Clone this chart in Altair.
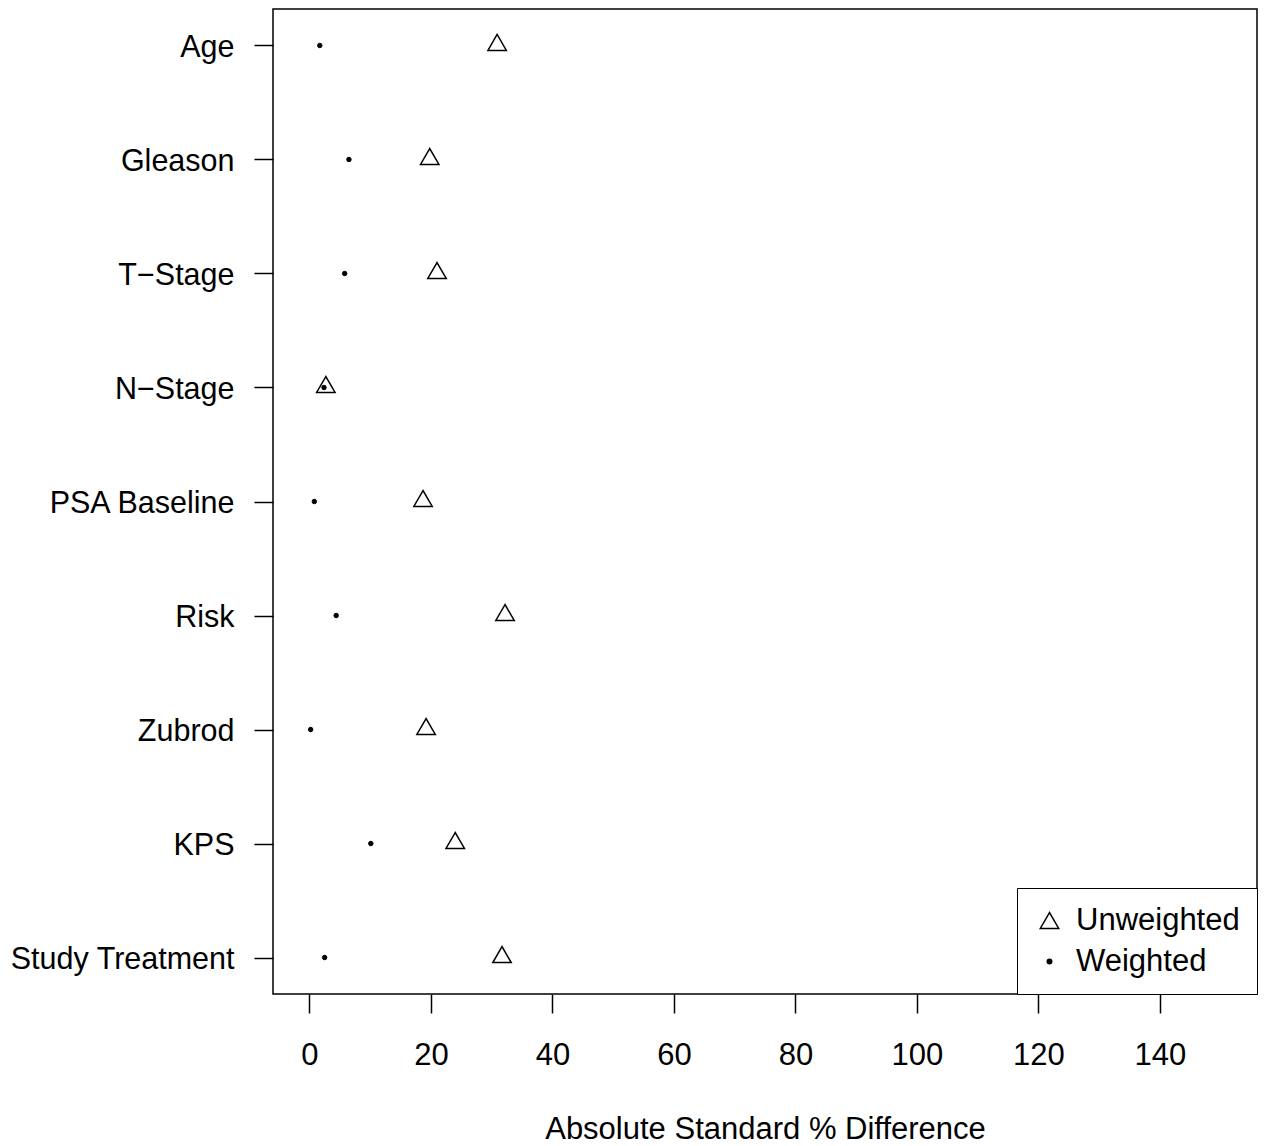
import altair as alt
import pandas as pd

categories = ["Age", "Gleason", "T−Stage", "N−Stage", "PSA Baseline",
              "Risk", "Zubrod", "KPS", "Study Treatment"]
unweighted = [30.9, 19.8, 21.0, 2.7, 18.7, 32.2, 19.2, 24.0, 31.7]
weighted = [1.7, 6.5, 5.8, 2.4, 0.8, 4.4, 0.2, 10.1, 2.5]
series = ["Unweighted", "Weighted"]
x_ticks = [0, 20, 40, 60, 80, 100, 120, 140]
x_domain = [-6, 156]

rows = []
for c, v in zip(categories, unweighted):
    rows.append({"variable": c, "value": v, "series": "Unweighted"})
for c, v in zip(categories, weighted):
    rows.append({"variable": c, "value": v, "series": "Weighted"})
df = pd.DataFrame(rows)

FONT = "Liberation Sans"

base = alt.Chart(df).encode(
    x=alt.X("value:Q",
            scale=alt.Scale(domain=x_domain, nice=False, zero=False),
            axis=alt.Axis(values=x_ticks, tickSize=19, tickWidth=1.5, tickColor="black",
                          domain=False, grid=False, labelFontSize=31, labelFont=FONT,
                          labelColor="black", labelBaseline="alphabetic", labelPadding=51,
                          labelFlush=False, titleFontSize=31, titleFont=FONT,
                          titleFontWeight="normal", titleColor="black",
                          titleBaseline="alphabetic", titleY=144),
            title="Absolute Standard % Difference"),
    y=alt.Y("variable:N", sort=categories,
            scale=alt.Scale(padding=0.32),
            axis=alt.Axis(tickSize=19, tickWidth=1.5, tickColor="black", domain=False,
                          grid=False, labelFontSize=30.5, labelFont=FONT, labelColor="black",
                          labelPadding=20, labelBaseline="alphabetic", labelOffset=11,
                          labelLimit=400),
            title=None),
    shape=alt.Shape("series:N", scale=alt.Scale(domain=series, range=["triangle-up", "circle"]),
                    title=None),
    fill=alt.Fill("series:N", scale=alt.Scale(domain=series, range=["transparent", "black"]),
                  title=None),
    stroke=alt.Stroke("series:N", scale=alt.Scale(domain=series, range=["black", "black"]),
                      title=None),
    size=alt.Size("series:N", scale=alt.Scale(domain=series, range=[340, 20]), title=None),
)

tri = base.transform_filter(alt.datum.series == "Unweighted").mark_point(
    filled=True, strokeWidth=1.5, yOffset=-3, opacity=1)
dot = base.transform_filter(alt.datum.series == "Weighted").mark_point(
    filled=True, strokeWidth=1, opacity=1)

chart = alt.layer(tri, dot).properties(
    width=984, height=985,
    autosize=alt.AutoSizeParams(type="none"),
    padding={"left": 265, "top": 1, "right": 1, "bottom": 150},
).configure_view(
    stroke="black", strokeWidth=1.5
).configure_legend(
    orient="bottom-right", offset=0, padding=17, rowPadding=9, labelOffset=11,
    labelFontSize=31, labelFont=FONT, labelColor="black", strokeColor="black",
    fillColor="white", symbolStrokeWidth=1.5, labelLimit=400
)

chart.save("out.html", embed_options={"renderer": "svg", "actions": False})
